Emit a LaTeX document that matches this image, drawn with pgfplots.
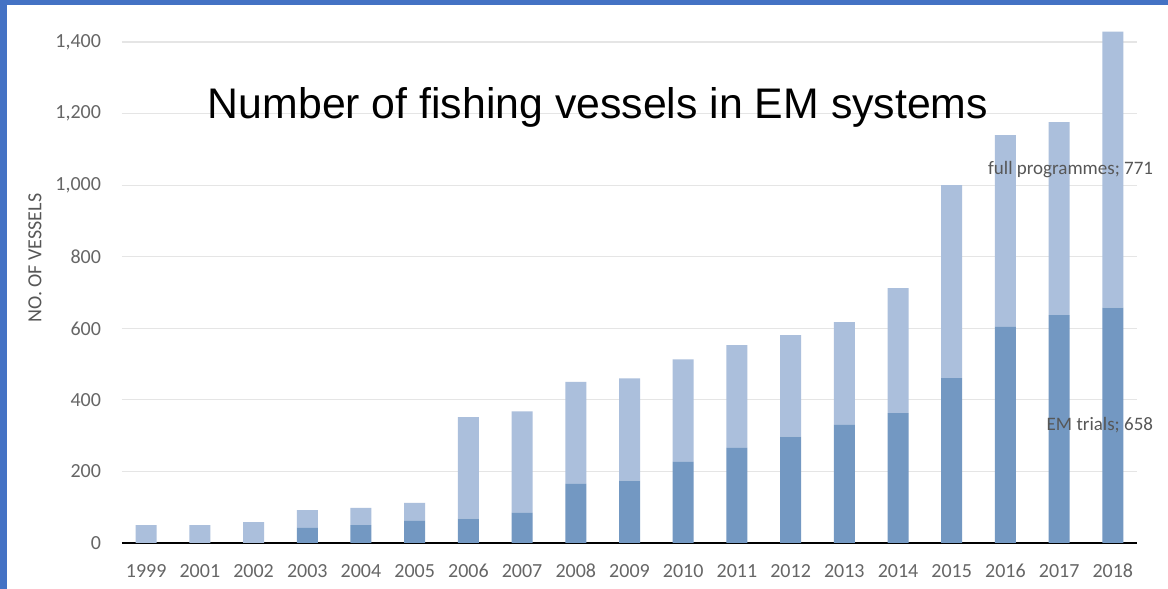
\documentclass[border=0pt]{standalone}
\usepackage{pgfplots}
\usepackage{pgfplotstable}
\pgfplotsset{compat=1.18}
\usepackage{fontspec}
\setmainfont{Carlito}
\newfontfamily\arialfont{Liberation Sans}

\definecolor{emdark}{HTML}{7398C2}
\definecolor{emlight}{HTML}{ABBFDC}
\definecolor{frameblue}{HTML}{4472C4}
\definecolor{labelgray}{HTML}{666666}

% x = position, trials = EM trials, full = full programmes
\pgfplotstableread{
x trials full
0 0 50
1 0 50
2 0 58
3 42 50
4 50 48
5 62 50
6 68 284
7 84 284
8 165 285
9 174 286
10 227 286
11 266 287
12 297 284
13 330 287
14 363 349
15 461 539
16 604 536
17 637 539
18 658 771
}\vessels

\begin{document}
\begin{tikzpicture}
\useasboundingbox (0,0) rectangle (584pt,294.5pt);
\fill[white] (0,0) rectangle (584pt,294.5pt);
\begin{axis}[
    at={(61pt,23pt)}, anchor=south west,
    scale only axis, width=507.5pt, height=259.4pt,
    ybar stacked, bar width=10.5pt,
    xmin=-0.45, xmax=18.45, ymin=0, ymax=1450,
    xtick={0,...,18},
    xticklabels={1999,2001,2002,2003,2004,2005,2006,2007,2008,2009,2010,2011,2012,2013,2014,2015,2016,2017,2018},
    ytick={0,200,...,1400},
    ymajorgrids, grid style={draw=black!10, line width=0.6pt},
    axis x line*=bottom, axis y line*=left,
    x axis line style={black, line width=1.1pt, -},
    y axis line style={draw=none},
    tick style={draw=none},
    ticklabel style={font=\fontsize{10}{12}\selectfont, text=labelgray},
    /pgf/number format/assume math mode=true,
    yticklabel style={xshift=-7pt},
    xticklabel style={yshift=-7pt},
    ylabel={NO. OF VESSELS},
    ylabel style={at={(rel axis cs:-0.0857,0.549)}, anchor=center,
        font=\fontsize{10}{12}\selectfont, text=labelgray!85!black},
    clip=false,
]
\addplot[fill=emdark, draw=none] table[x=x, y=trials] {\vessels};
\addplot[fill=emlight, draw=none] table[x=x, y=full] {\vessels};

\coordinate (fulllab) at (axis cs:18.88,1044);
\coordinate (triallab) at (axis cs:18.88,329);
\end{axis}

\node[anchor=east, font=\fontsize{9.5}{11}\selectfont, text=labelgray!85!black]
    at (fulllab) {full programmes; 771};
\node[anchor=east, font=\fontsize{9.5}{11}\selectfont, text=labelgray!85!black]
    at (triallab) {EM trials; 658};

\node[anchor=base, font=\arialfont\fontsize{21.4}{24}\selectfont]
    at (299pt,235pt) {Number of fishing vessels in EM systems};

\fill[frameblue] (0,0) rectangle (3.5pt,294.5pt);
\fill[frameblue] (0,292pt) rectangle (584pt,294.5pt);
\end{tikzpicture}
\end{document}
